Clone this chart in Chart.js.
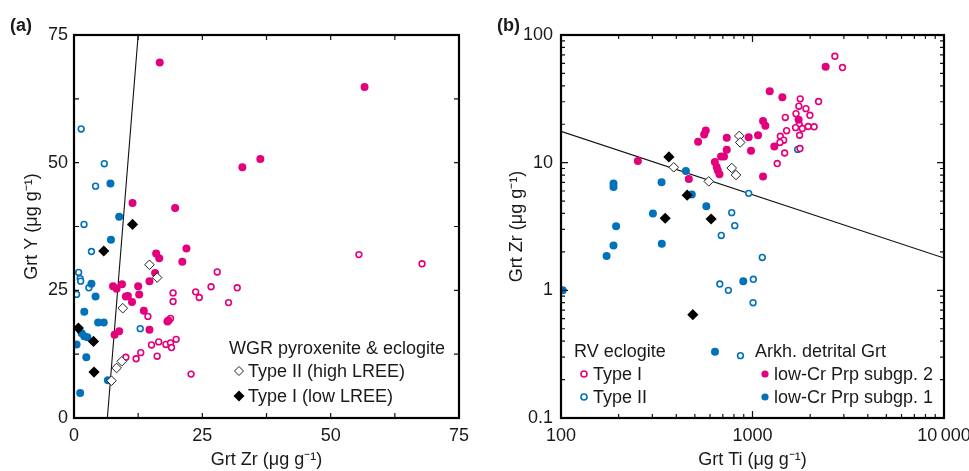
<!DOCTYPE html>
<html>
<head>
<meta charset="utf-8">
<script src="https://cdn.jsdelivr.net/npm/chart.js@4.4.1/dist/chart.umd.min.js"></script>
<style>
  body { margin: 0; background: #fff; }
  #wrap { position: relative; width: 969px; height: 471px; font-family: "Liberation Sans", Arial, sans-serif; color: #1a1a1a; }
  .panel { position: absolute; top: 0; }
  .txt { position: absolute; font-size: 18px; line-height: 20px; white-space: nowrap; }
  .lbl { position: absolute; font-size: 18px; font-weight: bold; line-height: 20px; }
  .mk { position: absolute; }
</style>
</head>
<body>
<div id="wrap">
  <div class="panel" style="left:0;width:480px;height:471px"><canvas id="ca" width="480" height="471"></canvas></div>
  <div class="panel" style="left:480px;width:489px;height:471px"><canvas id="cb" width="489" height="471"></canvas></div>

  <div class="lbl" style="left:10px;top:15px">(a)</div>
  <div class="lbl" style="left:497px;top:15px">(b)</div>

  <!-- legend (a) -->
  <div class="txt" style="left:229px;top:338px">WGR pyroxenite &amp; eclogite</div>
  <svg class="mk" style="left:233px;top:365px" width="12" height="12"><path d="M6 1.5 L10.5 6 L6 10.5 L1.5 6 Z" fill="#fff" stroke="#222" stroke-width="1"/></svg>
  <div class="txt" style="left:248px;top:361px">Type II (high LREE)</div>
  <svg class="mk" style="left:233px;top:390px" width="12" height="12"><path d="M6 0.5 L11.5 6 L6 11.5 L0.5 6 Z" fill="#000"/></svg>
  <div class="txt" style="left:248px;top:386px">Type I (low LREE)</div>

  <!-- legend (b) -->
  <div class="txt" style="left:574px;top:341px">RV eclogite</div>
  <svg class="mk" style="left:578px;top:368px" width="12" height="12"><circle cx="6" cy="6" r="3" fill="#fff" stroke="#e4007c" stroke-width="1.6"/></svg>
  <div class="txt" style="left:593px;top:364px">Type I</div>
  <svg class="mk" style="left:578px;top:391px" width="12" height="12"><circle cx="6" cy="6" r="3" fill="#fff" stroke="#0072bb" stroke-width="1.6"/></svg>
  <div class="txt" style="left:593px;top:387px">Type II</div>
  <div class="txt" style="left:755px;top:341px">Arkh. detrital Grt</div>
  <svg class="mk" style="left:759px;top:368px" width="12" height="12"><circle cx="6" cy="6" r="3.6" fill="#e4007c"/></svg>
  <div class="txt" style="left:774px;top:364px">low-Cr Prp subgp. 2</div>
  <svg class="mk" style="left:759px;top:391px" width="12" height="12"><circle cx="6" cy="6" r="3.6" fill="#0072bb"/></svg>
  <div class="txt" style="left:774px;top:387px">low-Cr Prp subgp. 1</div>
</div>

<script>
const PINK = '#e4007c';
const BLUE = '#0072bb';
const FONT = '"Liberation Sans", Arial, sans-serif';

// ---- panel (a): Grt Zr vs Grt Y ----
const aSub2Zr = [16.7, 56.6, 32.8, 36.3, 11.4, 19.7, 21.9, 16.0, 16.6, 21.1, 15.8, 14.7, 7.6, 8.3, 9.35, 12.5, 12.7, 10.1, 10.5, 11.3, 13.6, 18.2, 18.4, 14.7, 8.8, 7.9];
const aSub2Y  = [69.6, 64.8, 49.1, 50.7, 42.1, 41.1, 33.2, 32.2, 31.3, 30.6, 28.4, 26.8, 25.8, 25.3, 26.2, 25.8, 24.2, 23.8, 23.9, 22.7, 21.0, 18.9, 19.1, 17.3, 17.0, 16.3];
const aSub1Zr = [7.1, 8.8, 7.2, 3.4, 4.2, 2.0, 4.7, 5.8, 1.5, 2.0, 2.6, 0.5, 2.4, 1.2, 6.6];
const aSub1Y  = [45.9, 39.4, 34.9, 26.3, 23.8, 20.8, 18.7, 18.7, 16.6, 16.0, 15.8, 14.4, 11.9, 4.9, 7.4];
const aRv1Zr = [27.9, 19.3, 23.7, 24.4, 26.7, 31.8, 30.1, 19.3, 14.4, 18.8, 19.9, 16.5, 17.9, 18.8, 19.0, 16.2, 15.1, 13.0, 12.1, 10.1, 22.8, 55.5, 67.8];
const aRv1Y  = [28.6, 24.5, 24.7, 23.6, 25.7, 25.5, 22.6, 22.8, 19.9, 19.5, 15.4, 14.9, 14.4, 14.7, 13.8, 12.1, 14.3, 12.8, 11.6, 11.9, 8.6, 32.0, 30.2];
const aRv2Zr = [1.4, 5.9, 4.2, 1.95, 3.4, 0.9, 1.2, 1.3, 2.9, 0.5, 12.9];
const aRv2Y  = [56.6, 49.8, 45.4, 37.9, 32.6, 28.5, 27.3, 26.8, 25.5, 24.2, 17.5];
const aWgr2Zr = [14.7, 16.2, 9.5, 9.3, 8.3, 7.3];
const aWgr2Y  = [30.0, 27.5, 21.5, 11.1, 9.8, 7.3];
const aWgr1Zr = [11.4, 5.8, 0.85, 3.8, 3.9];
const aWgr1Y  = [37.9, 32.7, 17.6, 15.0, 9.0];
const aLineZr = [6.5, 12.5];
const aLineY  = [0, 75];
const aTicks = [0, 12.5, 25, 37.5, 50, 62.5, 75];
const aLabels = [0, 25, 50, 75];

// ---- panel (b): Grt Ti vs Grt Zr ----
const bSub2Ti = [252, 465, 520, 559, 570, 734, 734, 636, 650, 659, 672, 685, 710, 955, 982, 1069, 1135, 1167, 1300, 1135, 1230, 1432, 1741, 2410];
const bSub2Zr = [10.3, 7.45, 14.6, 16.6, 17.9, 15.7, 12.6, 10.1, 9.25, 8.7, 8.1, 11.2, 11.2, 15.8, 12.4, 16.4, 21.2, 19.5, 13.4, 7.8, 36.2, 32.6, 21.7, 56.5];
const bSub1Ti = [188, 188, 194, 188, 173, 102, 302, 335, 336, 449, 482, 574, 895, 637];
const bSub1Zr = [6.86, 6.46, 3.18, 2.24, 1.86, 1.0, 3.99, 7.03, 2.32, 8.61, 5.62, 4.56, 1.18, 0.33];
const bRv1Ti = [2692, 2951, 2213, 1775, 1746, 1901, 1994, 1687, 1484, 1754, 1679, 1820, 1954, 2098, 1762, 1507, 1397, 1455, 1391, 1472, 1346, 1770];
const bRv1Zr = [68.1, 55.6, 30.1, 31.6, 27.7, 26.5, 23.5, 24.2, 22.6, 19.9, 18.8, 18.5, 19.2, 19.1, 16.4, 17.8, 16.1, 15.0, 14.4, 11.9, 9.84, 12.9];
const bRv2Ti = [955, 779, 808, 687, 1125, 1010, 675, 748, 1007, 1722, 865];
const bRv2Zr = [5.75, 4.06, 3.21, 2.69, 1.81, 1.22, 1.12, 1.0, 0.80, 12.7, 0.308];
const bWgr2Ti = [388, 591, 779, 820, 853, 863];
const bWgr2Zr = [9.2, 7.14, 9.08, 8.01, 16.2, 14.4];
const bWgr1Ti = [366, 456, 350, 608, 488];
const bWgr1Zr = [11.1, 5.56, 3.67, 3.62, 0.645];
const bLineTi = [100, 10000];
const bLineZr = [17.6, 1.79];
const bTicksX = [100, 1000, 10000];
const bTicksY = [0.1, 1, 10, 100];

function pts(xs, ys) { return xs.map((x, i) => ({x: x, y: ys[i]})); }

function filled(data, color) {
  return {data, pointRadius: 4, pointHoverRadius: 4, pointBorderWidth: 0, backgroundColor: color, borderColor: color, showLine: false};
}
function open(data, color) {
  return {data, pointRadius: 2.9, pointHoverRadius: 2.9, pointBorderWidth: 1.6, backgroundColor: '#fff', borderColor: color, showLine: false};
}
function diamonds(data, solid) {
  return {data, pointStyle: 'rectRot', pointRadius: solid ? 5.6 : 4.8, pointHoverRadius: 5,
    pointBorderWidth: solid ? 0 : 1, backgroundColor: solid ? '#000' : '#fff', borderColor: '#222', showLine: false};
}
function line(data) {
  return {data, showLine: true, borderColor: '#111', borderWidth: 1.1, pointRadius: 0, pointHoverRadius: 0};
}

// inward tick marks on all four sides plus the heavy frame
const inwardTicks = {
  id: 'inwardTicks',
  afterDraw(chart) {
    const {ctx, chartArea: a, scales} = chart;
    const marks = (s) => {
      if (s.type !== 'logarithmic') return s.ticks.map(t => ({v: t.value, len: 5}));
      const out = [];
      for (let e = Math.floor(Math.log10(s.min)); e <= Math.ceil(Math.log10(s.max)); e++) {
        for (let k = 1; k <= 9; k++) {
          const v = k * Math.pow(10, e);
          if (v >= s.min * 0.999 && v <= s.max * 1.001) out.push({v, len: k === 1 ? 7 : 4});
        }
      }
      return out;
    };
    ctx.save();
    ctx.strokeStyle = '#111';
    ctx.lineWidth = 1.2;
    ctx.beginPath();
    marks(scales.x).forEach(m => {
      const p = scales.x.getPixelForValue(m.v);
      ctx.moveTo(p, a.bottom); ctx.lineTo(p, a.bottom - m.len);
      ctx.moveTo(p, a.top); ctx.lineTo(p, a.top + m.len);
    });
    marks(scales.y).forEach(m => {
      const p = scales.y.getPixelForValue(m.v);
      ctx.moveTo(a.left, p); ctx.lineTo(a.left + m.len, p);
      ctx.moveTo(a.right, p); ctx.lineTo(a.right - m.len, p);
    });
    ctx.stroke();
    ctx.lineWidth = 2.2;
    ctx.strokeStyle = '#000';
    ctx.strokeRect(a.left, a.top, a.right - a.left, a.bottom - a.top);
    ctx.restore();
  }
};

// one axis; size = fixed height (x) or width (y) so the plot box lands where the reference has it
function axis(type, min, max, title, size, titlePad, labelPad, ticks, labels, fmt, horizontal) {
  return {
    type, min, max,
    grid: {display: false, drawTicks: false},
    border: {display: false},
    title: {display: true, text: title, color: '#1a1a1a', font: {family: FONT, size: 18}, padding: titlePad},
    ticks: {color: '#1a1a1a', font: {family: FONT, size: 18}, padding: labelPad, autoSkip: false, maxRotation: 0,
      callback: v => (labels.indexOf(v) >= 0 ? fmt(v) : '')},
    afterBuildTicks(s) { s.ticks = ticks.map(v => ({value: v})); },
    afterFit(s) {
      if (horizontal) s.height = size; else s.width = size;
      s.paddingLeft = s.paddingRight = s.paddingTop = s.paddingBottom = 0;
    }
  };
}

function options(padRight, xScale, yScale) {
  return {
    responsive: false,
    animation: false,
    layout: {padding: {top: 35, right: padRight, left: 0, bottom: 0}},
    plugins: {legend: {display: false}, tooltip: {enabled: false}},
    scales: {x: xScale, y: yScale}
  };
}

const unit = ' (\u03bcg g\u207b\u00b9)';

// (a)
new Chart(document.getElementById('ca'), {
  type: 'scatter',
  data: {datasets: [
    diamonds(pts(aWgr1Zr, aWgr1Y), true),
    diamonds(pts(aWgr2Zr, aWgr2Y), false),
    filled(pts(aSub2Zr, aSub2Y), PINK),
    filled(pts(aSub1Zr, aSub1Y), BLUE),
    open(pts(aRv1Zr, aRv1Y), PINK),
    open(pts(aRv2Zr, aRv2Y), BLUE),
    line(pts(aLineZr, aLineY))
  ]},
  options: options(21,
    axis('linear', 0, 75, 'Grt Zr' + unit, 53, {top: 0, bottom: 0}, 7, aTicks, aLabels, v => String(v), true),
    axis('linear', 0, 75, 'Grt Y' + unit, 74, {top: 21, bottom: 0}, 6, aTicks, aLabels, v => String(v), false)),
  plugins: [inwardTicks]
});

// (b)
new Chart(document.getElementById('cb'), {
  type: 'scatter',
  data: {datasets: [
    diamonds(pts(bWgr1Ti, bWgr1Zr), true),
    diamonds(pts(bWgr2Ti, bWgr2Zr), false),
    filled(pts(bSub2Ti, bSub2Zr), PINK),
    filled(pts(bSub1Ti, bSub1Zr), BLUE),
    open(pts(bRv1Ti, bRv1Zr), PINK),
    open(pts(bRv2Ti, bRv2Zr), BLUE),
    line(pts(bLineTi, bLineZr))
  ]},
  options: options(25,
    axis('logarithmic', 100, 10000, 'Grt Ti' + unit, 53, {top: 0, bottom: 0}, 7, bTicksX, bTicksX,
      v => (v === 10000 ? '10\u2009000' : String(v)), true),
    axis('logarithmic', 0.1, 100, 'Grt Zr' + unit, 81, {top: 26, bottom: 0}, 8, bTicksY, bTicksY,
      v => String(v), false)),
  plugins: [inwardTicks]
});
</script>
</body>
</html>
